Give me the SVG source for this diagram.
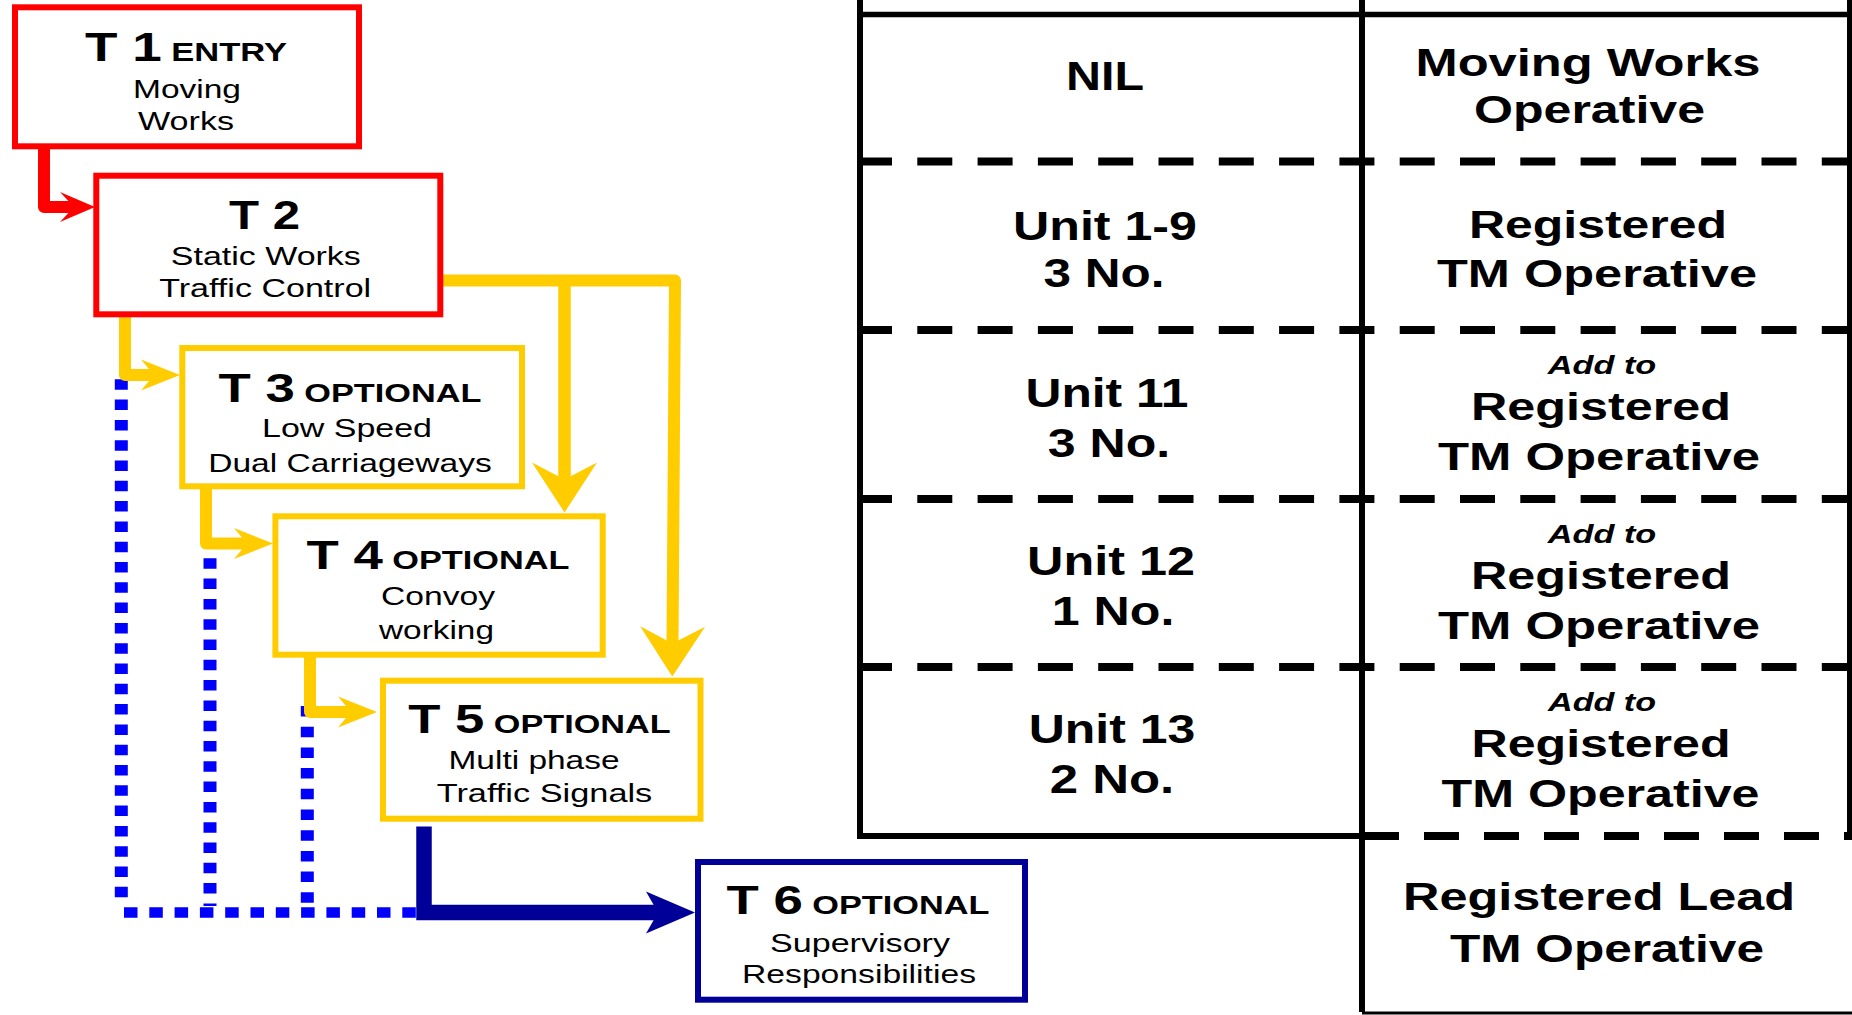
<svg xmlns="http://www.w3.org/2000/svg" width="1852" height="1015" viewBox="0 0 1852 1015">
<style>
  text { font-family: "Liberation Sans", Arial, sans-serif; fill: #000; text-anchor: middle; }
  .big { font-size: 40px; font-weight: bold; }
  .sc { font-size: 26px; font-weight: bold; }
  .body { font-size: 26.5px; }
  .tl { font-size: 41px; font-weight: bold; }
  .tr { font-size: 38px; font-weight: bold; }
  .add { font-size: 25px; font-weight: bold; font-style: italic; }
  .box { fill: #fff; stroke-width: 6; }
  .red { stroke: #FF0000; }
  .yel { stroke: #FFCC00; }
  .navy { stroke: #000099; }
  .conn { fill: none; stroke-linejoin: round; }
  .dot { fill: none; stroke: #0000FF; }
  .grid { stroke: #000; fill: none; }
</style>
<defs>
  <marker id="ahRed" markerUnits="userSpaceOnUse" orient="auto" refX="0" refY="0" markerWidth="60" markerHeight="60" overflow="visible">
    <path d="M21,0 L-14,-15 L0,0 L-14,15 Z" fill="#FF0000"/>
  </marker>
  <marker id="ahYs" markerUnits="userSpaceOnUse" orient="auto" refX="0" refY="0" markerWidth="60" markerHeight="60" overflow="visible">
    <path d="M26,0 L-13,-15.5 L0,0 L-13,15.5 Z" fill="#FFCC00"/>
  </marker>
  <marker id="ahYb" markerUnits="userSpaceOnUse" orient="auto" refX="0" refY="0" markerWidth="80" markerHeight="80" overflow="visible">
    <path d="M33,0 L-17,-32.5 L0,0 L-17,32.5 Z" fill="#FFCC00"/>
  </marker>
  <marker id="ahNavy" markerUnits="userSpaceOnUse" orient="auto" refX="0" refY="0" markerWidth="80" markerHeight="80" overflow="visible">
    <path d="M37,0 L-12,-21 L0,0 L-12,21 Z" fill="#000099"/>
  </marker>
</defs>

<g id="table">
  <line class="grid" x1="860" y1="0" x2="860" y2="839" stroke-width="6"/>
  <line class="grid" x1="1362" y1="0" x2="1362" y2="1012" stroke-width="6"/>
  <line class="grid" x1="1849.5" y1="0" x2="1849.5" y2="836" stroke-width="5"/>
  <line class="grid" x1="857" y1="14.5" x2="1852" y2="14.5" stroke-width="5.5"/>
  <line class="grid" x1="857" y1="161.5" x2="1852" y2="161.5" stroke-width="8" stroke-dasharray="35 25.3"/>
  <line class="grid" x1="857" y1="330" x2="1852" y2="330" stroke-width="8" stroke-dasharray="35 25.3"/>
  <line class="grid" x1="857" y1="499" x2="1852" y2="499" stroke-width="8" stroke-dasharray="35 25.3"/>
  <line class="grid" x1="857" y1="667" x2="1852" y2="667" stroke-width="8" stroke-dasharray="35 25.3"/>
  <line class="grid" x1="857" y1="836" x2="1365" y2="836" stroke-width="6"/>
  <line class="grid" x1="1364" y1="836" x2="1852" y2="836" stroke-width="8" stroke-dasharray="35 25"/>
  <line class="grid" x1="1362" y1="1013" x2="1852" y2="1013" stroke-width="3"/>

  <text class="tl" x="1105" y="90" textLength="78" lengthAdjust="spacingAndGlyphs">NIL</text>
  <text class="tr" x="1588" y="76" textLength="345" lengthAdjust="spacingAndGlyphs">Moving Works</text>
  <text class="tr" x="1589.5" y="123.3" textLength="231" lengthAdjust="spacingAndGlyphs">Operative</text>

  <text class="tl" x="1105" y="240" textLength="184" lengthAdjust="spacingAndGlyphs">Unit 1-9</text>
  <text class="tl" x="1104" y="287.3" textLength="121" lengthAdjust="spacingAndGlyphs">3 No.</text>
  <text class="tr" x="1598" y="238.3" textLength="258" lengthAdjust="spacingAndGlyphs">Registered</text>
  <text class="tr" x="1597" y="286.7" textLength="320" lengthAdjust="spacingAndGlyphs">TM Operative</text>

  <text class="tl" x="1107" y="406.7" textLength="163" lengthAdjust="spacingAndGlyphs">Unit 11</text>
  <text class="tl" x="1109" y="456.7" textLength="122.5" lengthAdjust="spacingAndGlyphs">3 No.</text>
  <text class="add" x="1602" y="373.5" textLength="108.5" lengthAdjust="spacingAndGlyphs">Add to</text>
  <text class="tr" x="1601" y="420" textLength="260" lengthAdjust="spacingAndGlyphs">Registered</text>
  <text class="tr" x="1599" y="470" textLength="322" lengthAdjust="spacingAndGlyphs">TM Operative</text>

  <text class="tl" x="1111" y="575" textLength="168" lengthAdjust="spacingAndGlyphs">Unit 12</text>
  <text class="tl" x="1113" y="625" textLength="122.7" lengthAdjust="spacingAndGlyphs">1 No.</text>
  <text class="add" x="1602" y="542.5" textLength="108.5" lengthAdjust="spacingAndGlyphs">Add to</text>
  <text class="tr" x="1601" y="589" textLength="260" lengthAdjust="spacingAndGlyphs">Registered</text>
  <text class="tr" x="1599" y="639" textLength="322" lengthAdjust="spacingAndGlyphs">TM Operative</text>

  <text class="tl" x="1112" y="743.3" textLength="166.5" lengthAdjust="spacingAndGlyphs">Unit 13</text>
  <text class="tl" x="1112" y="793.3" textLength="124.6" lengthAdjust="spacingAndGlyphs">2 No.</text>
  <text class="add" x="1602" y="711" textLength="108" lengthAdjust="spacingAndGlyphs">Add to</text>
  <text class="tr" x="1601" y="757" textLength="259" lengthAdjust="spacingAndGlyphs">Registered</text>
  <text class="tr" x="1600.5" y="807" textLength="318" lengthAdjust="spacingAndGlyphs">TM Operative</text>

  <text class="tr" x="1599" y="910" textLength="392" lengthAdjust="spacingAndGlyphs">Registered Lead</text>
  <text class="tr" x="1607" y="961.7" textLength="314" lengthAdjust="spacingAndGlyphs">TM Operative</text>
</g>

<g id="connectors">
  <path class="dot" d="M121.3,379.3 V906" stroke-width="13" stroke-dasharray="10.5 9.8"/>
  <path class="dot" d="M210,538 V906" stroke-width="13" stroke-dasharray="10.5 9.8"/>
  <path class="dot" d="M307.3,706 V906" stroke-width="13" stroke-dasharray="10.5 10.2"/>
  <path class="dot" d="M124,912.5 H421" stroke-width="10.7" stroke-dasharray="13.5 11.8"/>

  <path class="conn red" d="M44,148 V207 H74" stroke-width="12" marker-end="url(#ahRed)"/>
  <path class="conn yel" d="M125,317 V375 H154" stroke-width="12" marker-end="url(#ahYs)"/>
  <path class="conn yel" d="M206,488 V543.5 H247" stroke-width="12" marker-end="url(#ahYs)"/>
  <path class="conn yel" d="M310,657 V712 H351" stroke-width="12" marker-end="url(#ahYs)"/>
  <path class="conn yel" d="M443,280.5 H675 L672.5,643.5" stroke-width="12" marker-end="url(#ahYb)"/>
  <path class="conn yel" d="M564.5,281 V479.5" stroke-width="12.5" marker-end="url(#ahYb)"/>
  <path class="navy" d="M424,826.5 V912.5 H658" fill="none" stroke-width="15.5" stroke-linejoin="miter" marker-end="url(#ahNavy)"/>
</g>

<g id="T1">
  <rect class="box red" x="15" y="7.3" width="344" height="139"/>
  <text x="186" y="61" textLength="202" lengthAdjust="spacingAndGlyphs"><tspan class="big">T 1</tspan><tspan class="sc"> ENTRY</tspan></text>
  <text class="body" x="187" y="98" textLength="108" lengthAdjust="spacingAndGlyphs">Moving</text>
  <text class="body" x="186" y="129.5" textLength="96" lengthAdjust="spacingAndGlyphs">Works</text>
</g>

<g id="T2">
  <rect class="box red" x="96.3" y="175.7" width="344" height="138.6"/>
  <text class="big" x="264.5" y="229" textLength="71" lengthAdjust="spacingAndGlyphs">T 2</text>
  <text class="body" x="265.8" y="265" textLength="190" lengthAdjust="spacingAndGlyphs">Static Works</text>
  <text class="body" x="265.2" y="297.3" textLength="212" lengthAdjust="spacingAndGlyphs">Traffic Control</text>
</g>

<g id="T3">
  <rect class="box yel" x="182.3" y="348" width="339.7" height="138.3"/>
  <text x="350" y="401.7" textLength="263" lengthAdjust="spacingAndGlyphs"><tspan class="big">T 3</tspan><tspan class="sc"> OPTIONAL</tspan></text>
  <text class="body" x="347" y="436.7" textLength="170" lengthAdjust="spacingAndGlyphs">Low Speed</text>
  <text class="body" x="350" y="471.7" textLength="283.6" lengthAdjust="spacingAndGlyphs">Dual Carriageways</text>
</g>

<g id="T4">
  <rect class="box yel" x="275.4" y="516.3" width="327.3" height="138.4"/>
  <text x="438" y="569.3" textLength="263" lengthAdjust="spacingAndGlyphs"><tspan class="big">T 4</tspan><tspan class="sc"> OPTIONAL</tspan></text>
  <text class="body" x="438" y="605" textLength="114" lengthAdjust="spacingAndGlyphs">Convoy</text>
  <text class="body" x="436.5" y="639.3" textLength="115" lengthAdjust="spacingAndGlyphs">working</text>
</g>

<g id="T5">
  <rect class="box yel" x="383" y="680.7" width="317.5" height="138"/>
  <text x="539.5" y="732.7" textLength="262.4" lengthAdjust="spacingAndGlyphs"><tspan class="big">T 5</tspan><tspan class="sc"> OPTIONAL</tspan></text>
  <text class="body" x="534" y="769.3" textLength="171" lengthAdjust="spacingAndGlyphs">Multi phase</text>
  <text class="body" x="544.5" y="801.7" textLength="215.6" lengthAdjust="spacingAndGlyphs">Traffic Signals</text>
</g>

<g id="T6">
  <rect class="box navy" x="698" y="862" width="327" height="137.7"/>
  <text x="858" y="914" textLength="263" lengthAdjust="spacingAndGlyphs"><tspan class="big">T 6</tspan><tspan class="sc"> OPTIONAL</tspan></text>
  <text class="body" x="860" y="951.7" textLength="180" lengthAdjust="spacingAndGlyphs">Supervisory</text>
  <text class="body" x="859" y="983.3" textLength="234" lengthAdjust="spacingAndGlyphs">Responsibilities</text>
</g>
</svg>
